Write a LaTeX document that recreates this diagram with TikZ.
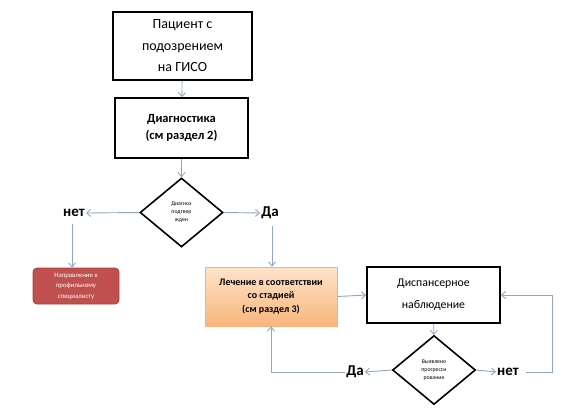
\documentclass[tikz,border=0pt]{standalone}
\usepackage{fontspec}
\setmainfont{Carlito}
\usetikzlibrary{shapes.geometric,arrows.meta}
\definecolor{conn}{HTML}{8FA6C6}
\definecolor{redfill}{HTML}{C0504D}
\definecolor{redline}{HTML}{A8413E}
\definecolor{orTop}{HTML}{FDE3CB}
\definecolor{orBot}{HTML}{F9B67C}
\definecolor{orLine}{HTML}{F2B27E}
\tikzset{
  blackbox/.style={draw=black, line width=1.7pt, fill=white, inner sep=0pt, align=center},
  decision/.style={diamond, draw=black, line width=1.6pt, fill=white, inner sep=0pt, align=center,
    minimum width=83pt, minimum height=69pt, font=\fontsize{5.8}{8}\selectfont},
  lbl/.style={inner sep=1pt, font=\fontsize{15}{18}\selectfont\bfseries},
  conn/.style={draw=conn, line width=0.9pt, -{Straight Barb[length=4pt,width=7pt]}},
  connline/.style={draw=conn, line width=0.9pt}
}
\begin{document}
\begin{tikzpicture}[x=1pt,y=-1pt]
\useasboundingbox (0,0) rectangle (568,410);
\fill[white] (0,0) rectangle (568,410);
% nodes
\node[blackbox, minimum width=139pt, minimum height=68pt,
  font=\fontsize{14}{21.5}\selectfont] (p) at (182.5,46) {Пациент с\\подозрением\\на ГИСО};
\node[blackbox, minimum width=133pt, minimum height=60pt,
  font=\fontsize{12.5}{16.5}\selectfont\bfseries] (diag) at (181.5,128) {Диагностика\\(см раздел 2)};
\node[decision] (d1) at (181.5,212.5) {Диагноз\\подтвер\\жден};
\node[lbl] (net1) at (74,213) {нет};
\node[lbl] (da1) at (270,213) {Да};
\node[draw=redline, fill=redfill, rounded corners=4pt, line width=0.8pt,
  minimum width=86pt, minimum height=36pt, inner sep=0pt, align=center, text=white,
  font=\fontsize{6.8}{10.5}\selectfont] (red) at (76,286) {Направление к\\профильному\\специалисту};
\node[draw=orLine, top color=orTop, bottom color=orBot, line width=0.8pt,
  minimum width=132pt, minimum height=59pt, inner sep=0pt, align=center,
  font=\fontsize{10}{13.5}\selectfont\bfseries] (treat) at (271,296.5) {Лечение в соответствии\\со стадией\\(см раздел 3)};
\node[blackbox, minimum width=133pt, minimum height=56pt,
  font=\fontsize{11.8}{22}\selectfont] (disp) at (433.5,295) {Диспансерное\\наблюдение};
\node[decision] (d2) at (434,370) {Выявлено\\прогресси\\рование};
\node[lbl] (da2) at (355,372) {Да};
\node[lbl] (net2) at (508,372) {нет};
\coordinate (c2) at (552,372);
% connectors
\draw[conn] (p) -- (diag);
\draw[conn] (diag) -- (d1);
\draw[conn] (d1.west) -- (net1.east);
\draw[conn] (d1.east) -- (da1.west);
\draw[conn] (net1.south) ++(-2,6) -- (red.north -| 72,0);
\draw[conn] (da1.south) ++(2,6) -- (treat.north -| 272,0);
\draw[conn] (treat.east) -- (disp.west);
\draw[conn] (disp) -- (d2);
\draw[conn] (d2.west) -- (da2.east);
\draw[conn] (d2.east) -- (net2.west);
\draw[conn] (da2.west) -| (treat.south);
\draw[conn] (net2.east) ++(6,0) -- (c2) |- (disp.east);
\end{tikzpicture}
\end{document}
